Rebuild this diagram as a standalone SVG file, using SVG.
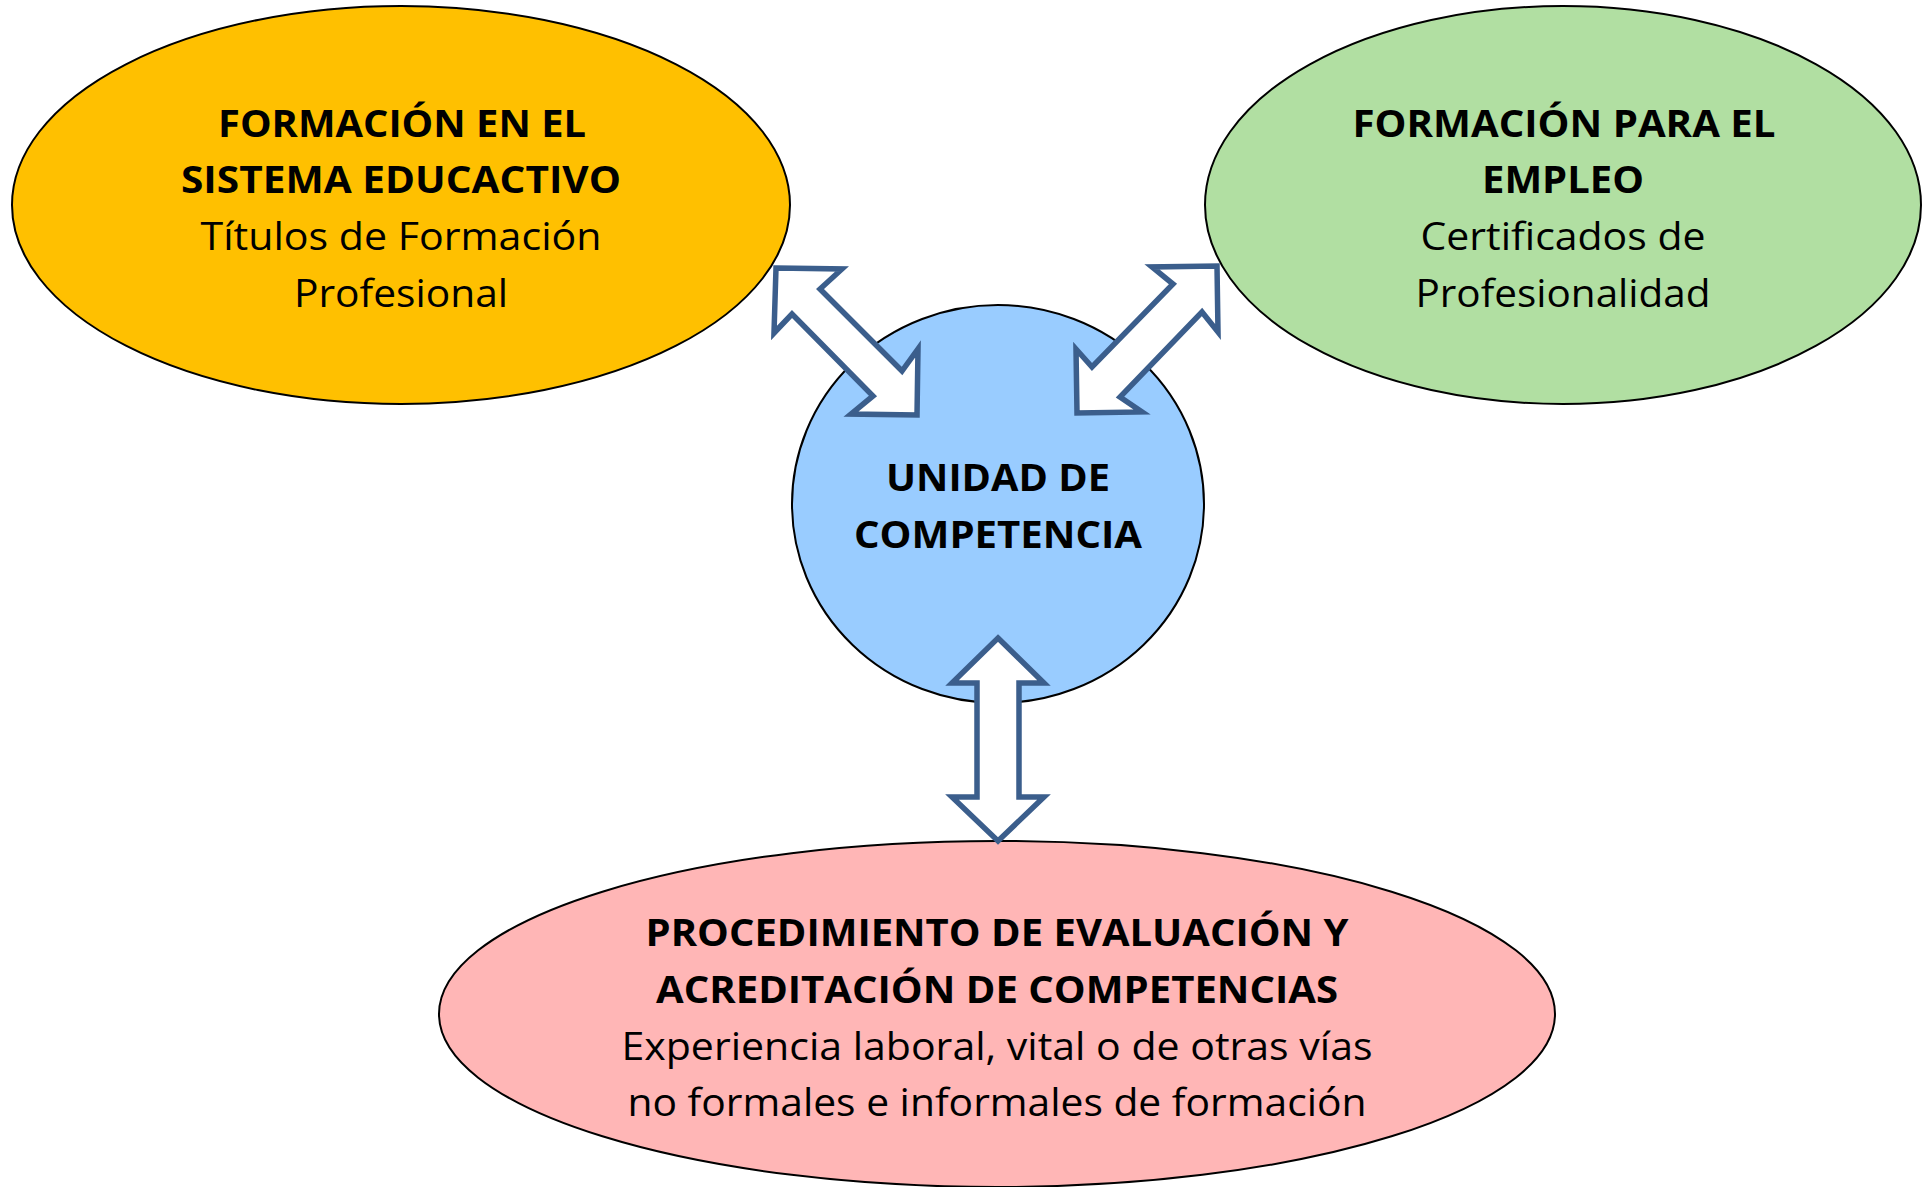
<svg xmlns="http://www.w3.org/2000/svg" width="1927" height="1187" viewBox="0 0 1927 1187">
<style>
.node{stroke:#000;stroke-width:2}
.t{font-family:"Open Sans","Noto Sans","Liberation Sans",sans-serif;font-size:38px;fill:#000;text-anchor:middle}
.b{font-weight:bold}
.arrow{fill:#fff;stroke:#3B5E8C;stroke-width:5.5;stroke-linejoin:miter}
</style>
<rect width="1927" height="1187" fill="#fff"/>
<g id="node-educativo">
<ellipse class="node" cx="401" cy="205" rx="389" ry="199" fill="#FFC000"/>
<text class="t b" x="402" y="137" textLength="368" lengthAdjust="spacingAndGlyphs">FORMACIÓN EN EL</text>
<text class="t b" x="401" y="193" textLength="440" lengthAdjust="spacingAndGlyphs">SISTEMA EDUCACTIVO</text>
<text class="t" x="401" y="250" textLength="401" lengthAdjust="spacingAndGlyphs">Títulos de Formación</text>
<text class="t" x="401" y="307" textLength="214" lengthAdjust="spacingAndGlyphs">Profesional</text>
</g>
<g id="node-empleo">
<ellipse class="node" cx="1563" cy="205" rx="358" ry="199" fill="#B1DFA2"/>
<text class="t b" x="1564" y="137" textLength="423" lengthAdjust="spacingAndGlyphs">FORMACIÓN PARA EL</text>
<text class="t b" x="1563" y="193" textLength="162" lengthAdjust="spacingAndGlyphs">EMPLEO</text>
<text class="t" x="1563" y="250" textLength="285" lengthAdjust="spacingAndGlyphs">Certificados de</text>
<text class="t" x="1563" y="307" textLength="295" lengthAdjust="spacingAndGlyphs">Profesionalidad</text>
</g>
<g id="node-unidad">
<ellipse class="node" cx="998" cy="504" rx="206" ry="199" fill="#99CCFF"/>
<text class="t b" x="998" y="491" textLength="224" lengthAdjust="spacingAndGlyphs">UNIDAD DE</text>
<text class="t b" x="998" y="548" textLength="288" lengthAdjust="spacingAndGlyphs">COMPETENCIA</text>
</g>
<g id="node-procedimiento">
<ellipse class="node" cx="997" cy="1014" rx="558" ry="173" fill="#FFB6B6"/>
<text class="t b" x="997" y="946" textLength="703" lengthAdjust="spacingAndGlyphs">PROCEDIMIENTO DE EVALUACIÓN Y</text>
<text class="t b" x="997" y="1003" textLength="682" lengthAdjust="spacingAndGlyphs">ACREDITACIÓN DE COMPETENCIAS</text>
<text class="t" x="997" y="1060" textLength="751" lengthAdjust="spacingAndGlyphs">Experiencia laboral, vital o de otras vías</text>
<text class="t" x="997" y="1116" textLength="739" lengthAdjust="spacingAndGlyphs">no formales e informales de formación</text>
</g>
<g id="connectors">
<polygon class="arrow" points="776,268 842,269 820,289 902,371 918,349 917,415 851,414 873,396 792,314 774,333"/>
<polygon class="arrow" points="1217,266 1218,332 1202,312 1120,397 1142,412 1077,413 1076,349 1092,367 1173,284 1152,267"/>
<polygon class="arrow" points="998,638 1044,683 1019,683 1019,797 1044,797 998,841 952,797 977,797 977,683 952,683"/>
</g>
</svg>
